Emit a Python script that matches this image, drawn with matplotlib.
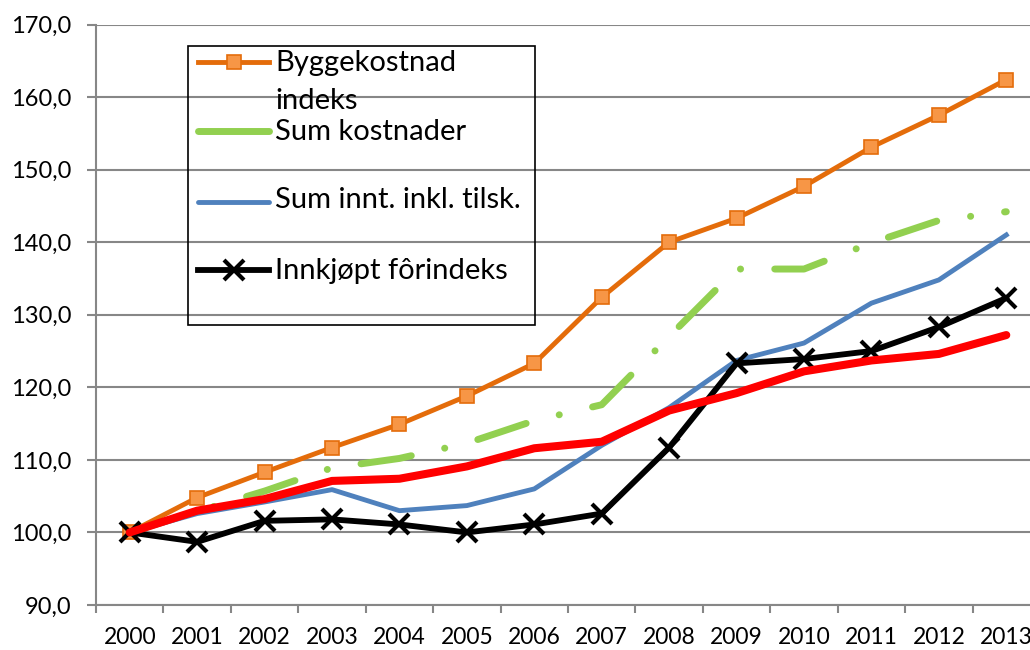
import matplotlib
matplotlib.use("Agg")
import matplotlib.pyplot as plt
from matplotlib.lines import Line2D
from matplotlib.patches import Rectangle
import numpy as np

years = ["2000", "2001", "2002", "2003", "2004", "2005", "2006",
         "2007", "2008", "2009", "2010", "2011", "2012", "2013"]

byggekostnad = [100.0, 104.8, 108.3, 111.7, 114.9, 118.8, 123.3,
                132.4, 140.0, 143.3, 147.7, 153.1, 157.5, 162.4]
sum_kostnader = [100.0, 102.9, 105.7, 108.9, 110.2, 112.3, 115.4,
                 117.6, 127.0, 136.3, 136.3, 139.9, 143.0, 144.2]
sum_inntekter = [100.0, 102.6, 104.2, 105.9, 103.0, 103.7, 106.0,
                 112.0, 117.2, 123.7, 126.1, 131.6, 134.8, 141.0]
red_serie = [100.0, 103.0, 104.6, 107.1, 107.4, 109.1, 111.6,
             112.5, 116.8, 119.2, 122.2, 123.7, 124.6, 127.2]
forindeks = [100.0, 98.7, 101.6, 101.8, 101.1, 100.0, 101.1,
             102.6, 111.7, 123.3, 123.9, 125.0, 128.3, 132.3]

legend_labels = ["Byggekostnad\nindeks", "Sum kostnader",
                 "Sum innt. inkl. tilsk.", "Innkjøpt fôrindeks"]

ORANGE = "#E46C0A"
ORANGE_FACE = "#F79646"
GREEN = "#92D050"
BLUE = "#4F81BD"
GREY = "#878787"

plt.rcParams["font.family"] = ["Lato", "DejaVu Sans"]
plt.rcParams["lines.scale_dashes"] = False

W, H = 1030, 650
fig = plt.figure(figsize=(W / 100, H / 100), dpi=100)
# plot area runs past the right edge, like the cropped original
ax = fig.add_axes([96 / W, 45 / H, 944 / W, 580.5 / H])

x = np.arange(len(years))
green_dash = (84.0, (36.7, 24.6, 0.1, 24.6))

ax.plot(x, byggekostnad, color=ORANGE, lw=3.5, marker="s", ms=10.5,
        mfc=ORANGE_FACE, mec=ORANGE, mew=1.2, zorder=3)
ax.plot(x, sum_kostnader, color=GREEN, lw=5, linestyle=green_dash,
        dash_capstyle="round", solid_capstyle="round", zorder=3)
ax.plot(x, sum_inntekter, color=BLUE, lw=3.5, solid_joinstyle="round", zorder=3)
ax.plot(x, forindeks, color="black", lw=4.2, marker="x", ms=14, mew=3,
        solid_joinstyle="round", zorder=4)
ax.plot(x, red_serie, color="#FF0000", lw=5.8, solid_joinstyle="round",
        solid_capstyle="round", zorder=5)

ax.set_xlim(-0.5, 13.5)
ax.set_ylim(90, 170)
ax.set_yticks(np.arange(90, 171, 10))
ax.set_yticklabels([f"{v:.1f}".replace(".", ",") for v in np.arange(90, 171, 10)])
ax.set_xticks(x)
ax.set_xticklabels(years)
ax.set_xticks(np.arange(-0.5, 14, 1), minor=True)

ax.tick_params(axis="y", length=6.5, width=1.5, color=GREY, pad=11, labelsize=17)
ax.tick_params(axis="x", which="major", length=0, pad=16, labelsize=16.5)
ax.tick_params(axis="x", which="minor", length=5.8, width=1.5, color=GREY)

ax.yaxis.grid(True, color=GREY, lw=1.5)
ax.set_axisbelow(True)
for side in ["top", "right"]:
    ax.spines[side].set_visible(False)
for side in ["left", "bottom"]:
    ax.spines[side].set_color(GREY)
    ax.spines[side].set_linewidth(1.5)


# legend box drawn by hand so the first handle sits on the first text line
def fx(px):
    return px / W


def fy(py):
    return 1 - py / H


fig.add_artist(Rectangle((fx(188), fy(325)), fx(535) - fx(188), fy(45.7) - fy(325),
                         transform=fig.transFigure, fill=False, ec="black", lw=1.2))
handle_y = [61.7, 131, 201.7, 270]
styles = [
    dict(color=ORANGE, lw=3.5),
    dict(color=GREEN, lw=5, solid_capstyle="round"),
    dict(color=BLUE, lw=3.5, solid_capstyle="round"),
    dict(color="black", lw=4.2),
]
for hy, st in zip(handle_y, styles):
    fig.add_artist(Line2D([fx(198), fx(269)], [fy(hy), fy(hy)],
                          transform=fig.transFigure, **st))
fig.add_artist(Line2D([fx(233.5)], [fy(61.7)], transform=fig.transFigure, marker="s",
                      ms=10.5, mfc=ORANGE_FACE, mec=ORANGE, mew=1.2, lw=0))
fig.add_artist(Line2D([fx(233.5)], [fy(270)], transform=fig.transFigure, marker="x",
                      ms=14, mew=3, color="black", lw=0))

text_base = [70.7, 140, 208, 279]
for label, by in zip(legend_labels, text_base):
    first, *rest = label.split("\n")
    fig.text(fx(275), fy(by), first, fontsize=21, va="baseline", ha="left")
    for i, line in enumerate(rest, start=1):
        fig.text(fx(275), fy(by + 38.3 * i), line, fontsize=21, va="baseline", ha="left")

fig.savefig("out.png", dpi=100)
